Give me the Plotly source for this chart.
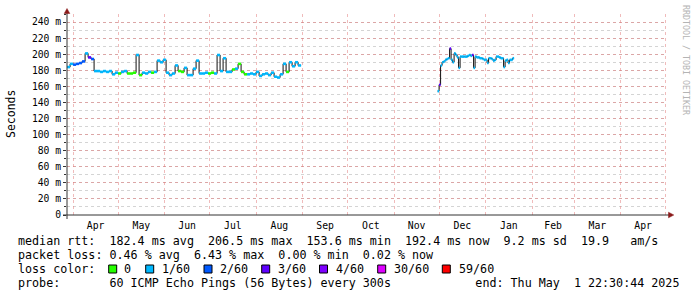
import plotly.graph_objects as go
import pandas as pd

# ---------------- data ----------------
time_start = "2024-03-27 22:30:44"
time_end = "2025-05-01 22:30:44"

seg1_start = "2024-03-28"
seg1_step_days = 2
seg1_median_ms = [184, 188, 187, 188, 189, 191, 201, 196, 194, 179,
                  179, 178, 179, 178, 179, 175, 177, 176, 178, 179,
                  176, 176, 177, 199, 174, 177, 176, 178, 177, 178,
                  192, 190, 193, 177, 174, 176, 186, 179, 178, 183,
                  174, 174, 182, 192, 176, 176, 177, 176, 177, 176,
                  199, 179, 195, 178, 178, 181, 182, 188, 178, 175,
                  175, 176, 175, 178, 173, 175, 176, 174, 177, 172,
                  171, 175, 188, 178, 190, 185, 190, 186]
seg1_loss = [1, 1, 2, 2, 2, 2, 1, 3, 2, 1,
             1, 1, 1, 1, 1, 1, 1, 0, 1, 1,
             0, 0, 0, 1, 0, 1, 1, 1, 0, 1,
             1, 1, 1, 1, 1, 1, 1, 0, 0, 1,
             1, 1, 1, 1, 1, 1, 1, 0, 0, 1,
             1, 1, 1, 1, 1, 0, 1, 0, 0, 0,
             1, 1, 1, 1, 1, 1, 1, 1, 1, 1,
             1, 1, 1, 0, 1, 1, 1, 1]

seg2_start = "2024-11-30"
seg2_step_days = 1
seg2_median_ms = [154, 162, 186, 190, 191, 193, 194, 195, 207, 193,
                  190, 201, 199, 196, 183, 197, 197, 197, 197, 197,
                  198, 199, 198, 199, 183, 197, 196, 196, 195, 195,
                  194, 193, 193, 189, 195, 195, 194, 192, 193, 197,
                  197, 196, 195, 195, 184, 192, 193, 189, 193, 193,
                  195]
seg2_loss = [1, 3, 1, 1, 1, 1, 1, 1, 3, 1,
             1, 1, 1, 1, 1, 1, 1, 1, 1, 1,
             1, 1, 1, 3, 1, 1, 1, 1, 1, 1,
             1, 1, 1, 1, 1, 1, 1, 1, 1, 1,
             1, 1, 1, 1, 1, 1, 1, 1, 1, 1,
             1]

loss_labels = ["0", "1/60", "2/60", "3/60", "4/60", "30/60", "59/60"]
loss_colors = ["#26ff00", "#00b8ff", "#0059ff", "#5e00ff", "#7e00ff", "#dd00ff", "#ff0000"]

ytick_vals = [0, 20, 40, 60, 80, 100, 120, 140, 160, 180, 200, 220, 240]
ytick_text = ["0"] + [f"{v} m" for v in ytick_vals[1:]]

legend_lines = [
    "median rtt:  182.4 ms avg  206.5 ms max  153.6 ms min  192.4 ms now  9.2 ms sd  19.9   am/s",
    "packet loss: 0.46 % avg  6.43 % max  0.00 % min  0.02 % now",
    "loss color:",
    "probe:       60 ICMP Echo Pings (56 Bytes) every 300s            end: Thu May  1 22:30:44 2025",
]
y_title = "Seconds"
watermark = "RRDTOOL / TOBI OETIKER"

# ---------------- layout geometry (pixels) ----------------
W, H = 697, 297
L, R, T, B = 67, 30, 14, 82
PW, PH = W - L - R, H - T - B
MONO = "DejaVu Sans Mono"


def px(x):
    return (x - L) / PW


def py(y):
    return (H - B - y) / PH


fig = go.Figure()


def add_segment(start, step, med, loss):
    dates = list(pd.date_range(start, periods=len(med) + 1, freq=f"{step}D"))
    fig.add_trace(go.Scatter(
        x=dates, y=med + [med[-1]], mode="lines", line_shape="hv",
        line=dict(color="#111111", width=1), hoverinfo="skip", showlegend=False))
    for k, col in enumerate(loss_colors):
        xs, ys = [], []
        for i, (v, c) in enumerate(zip(med, loss)):
            if c == k:
                xs += [dates[i], dates[i + 1], None]
                ys += [v, v, None]
        if xs:
            fig.add_trace(go.Scatter(
                x=xs, y=ys, mode="lines", line=dict(color=col, width=2.6),
                hoverinfo="skip", showlegend=False))


add_segment(seg1_start, seg1_step_days, seg1_median_ms, seg1_loss)
add_segment(seg2_start, seg2_step_days, seg2_median_ms, seg2_loss)

shapes = []
axis_col = "#333333"
arrow_col = "#8b1a1a"
# y axis line and x axis line
shapes.append(dict(type="line", xref="paper", yref="paper",
                   x0=px(67), x1=px(67), y0=py(219), y1=py(13),
                   line=dict(color=axis_col, width=1)))
shapes.append(dict(type="line", xref="paper", yref="paper",
                   x0=px(63), x1=px(669), y0=py(215), y1=py(215),
                   line=dict(color=axis_col, width=1)))
# arrows
shapes.append(dict(type="path", xref="paper", yref="paper",
                   path=f"M {px(64.2)} {py(13.5)} L {px(69.8)} {py(13.5)} L {px(67)} {py(8.5)} Z",
                   fillcolor=arrow_col, line=dict(color=arrow_col, width=0.5)))
shapes.append(dict(type="path", xref="paper", yref="paper",
                   path=f"M {px(668.5)} {py(212.2)} L {px(668.5)} {py(217.8)} L {px(673.8)} {py(215)} Z",
                   fillcolor=arrow_col, line=dict(color=arrow_col, width=0.5)))

annotations = []
line_y = [241, 255, 269, 283]
for txt, yy in zip(legend_lines, line_y):
    annotations.append(dict(text=txt.replace(" ", "\u00a0"), xref="paper", yref="paper",
                            x=px(16), y=py(yy), xanchor="left", yanchor="middle",
                            showarrow=False, font=dict(family=MONO, size=11.7, color="#000000")))

box_x = [108.7, 145.7, 204.0, 261.7, 319.5, 377.7, 442.3]
text_x = [121.7, 160.0, 218.0, 276.0, 333.5, 391.7, 456.7]
for lab, col, bx, tx in zip(loss_labels, loss_colors, box_x, text_x):
    shapes.append(dict(type="rect", xref="paper", yref="paper",
                       x0=px(bx), x1=px(bx + 8), y0=py(273), y1=py(265),
                       fillcolor=col, line=dict(color="#000000", width=1)))
    annotations.append(dict(text=lab, xref="paper", yref="paper",
                            x=px(tx), y=py(269), xanchor="left", yanchor="middle",
                            showarrow=False, font=dict(family=MONO, size=11.7, color="#000000")))

annotations.append(dict(text=y_title, xref="paper", yref="paper", x=px(11), y=py(114),
                        xanchor="center", yanchor="middle", textangle=-90, showarrow=False,
                        font=dict(family=MONO, size=11.5, color="#000000")))
annotations.append(dict(text=watermark.replace(" ", "\u00a0"), xref="paper", yref="paper",
                        x=px(686), y=py(60), xanchor="center", yanchor="middle",
                        textangle=90, showarrow=False,
                        font=dict(family=MONO, size=8.3, color="#b4b4b4")))

fig.update_layout(
    width=W, height=H,
    margin=dict(l=L, r=R, t=T, b=B, pad=0),
    paper_bgcolor="#ffffff", plot_bgcolor="#ffffff",
    shapes=shapes, annotations=annotations,
    xaxis=dict(type="date", range=[time_start, time_end],
               dtick="M1", tick0="2024-04-01", ticklabelmode="period", tickformat="%b",
               showgrid=True, gridcolor="rgba(225,120,120,0.5)", griddash="dot", gridwidth=1,
               showline=False, zeroline=False, ticks="", ticklabelstandoff=3,
               tickfont=dict(family=MONO, size=9.8, color="#000000")),
    yaxis=dict(range=[0, 250], tickvals=ytick_vals, ticktext=ytick_text,
               showgrid=True, gridcolor="rgba(225,120,120,0.5)", griddash="dot", gridwidth=1,
               minor=dict(dtick=10, tick0=0, showgrid=True, gridcolor="rgba(160,160,160,0.45)",
                          griddash="dot", gridwidth=1, ticks="outside", ticklen=2,
                          tickcolor=axis_col),
               ticks="outside", ticklen=3, tickcolor=axis_col,
               showline=False, zeroline=False,
               tickfont=dict(family=MONO, size=9.7, color="#000000")),
)

fig.write_html("out.html", config={"displayModeBar": False},
               post_script="document.body.style.margin='0';")
